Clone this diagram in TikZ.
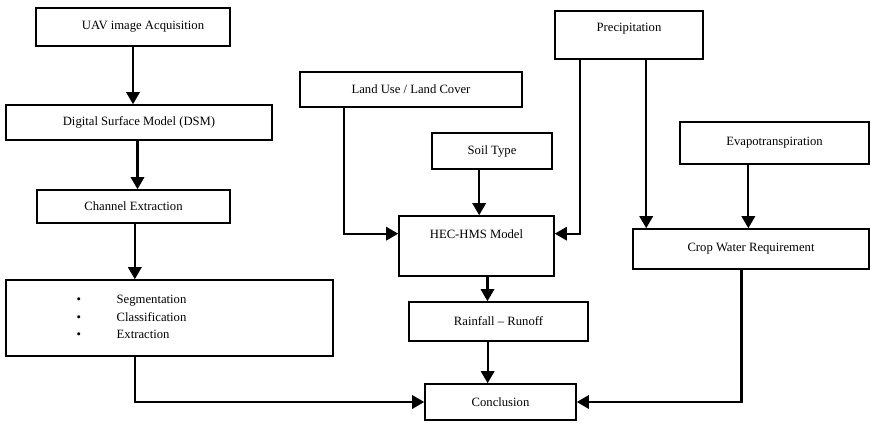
\documentclass[tikz,border=0pt]{standalone}
\usepackage{fontspec}
\setmainfont{Liberation Serif}
\usetikzlibrary{arrows.meta,calc}
\tikzstyle{every node}=[font=\fontsize{9.5}{11.4}\selectfont]
\tikzstyle{box}=[draw=black,line width=1.2pt,inner sep=0pt,align=center]
\tikzstyle{flow}=[line width=1.6pt,-{Triangle[width=10pt,length=9pt]}]

\begin{document}
\begin{tikzpicture}[x=0.75pt,y=-0.75pt]
  \useasboundingbox (0,0) rectangle (871,422);

  \node [box,minimum width=145.5pt,minimum height=28.5pt] (uav) at (133,27)
    {\hspace*{15pt}UAV image Acquisition};
  \node [box,minimum width=199.5pt,minimum height=26.25pt] (dsm) at (139,122.5)
    {Digital Surface Model (DSM)};
  \node [box,minimum width=144.75pt,minimum height=24.75pt] (chan) at (133.5,206.5)
    {Channel Extraction};
  \node [box,minimum width=245.25pt,minimum height=57pt] (stepbox) at (169.5,318) {};
  \node [anchor=west,align=left,font=\fontsize{9.5}{13}\selectfont] (steps) at (72,317)
    {\makebox[30pt][l]{\textbullet}Segmentation\\
     \makebox[30pt][l]{\textbullet}Classification\\
     \makebox[30pt][l]{\textbullet}Extraction};

  \node [box,minimum width=166.5pt,minimum height=26.25pt] (land) at (411,89.5)
    {Land Use / Land Cover};
  \node [box,minimum width=90pt,minimum height=27pt] (soil) at (492,151)
    {Soil Type};
  \node [box,minimum width=111pt,minimum height=36pt,text depth=11pt] (precip) at (629,35)
    {Precipitation};
  \node [box,minimum width=141.75pt,minimum height=31.5pt] (evapo) at (774.5,143)
    {Evapotranspiration};
  \node [box,minimum width=116.25pt,minimum height=45pt,text depth=18.5pt] (hec) at (476.5,246)
    {HEC-HMS Model};
  \node [box,minimum width=177pt,minimum height=30pt] (crop) at (751,249)
    {Crop Water Requirement};
  \node [box,minimum width=134.25pt,minimum height=29.25pt] (rain) at (498.5,321.5)
    {Rainfall -- Runoff};
  \node [box,minimum width=113.25pt,minimum height=27pt] (concl) at (500.5,402)
    {Conclusion};

  \coordinate (landout) at ($(land.south west)!0.2!(land.south east)$);
  \coordinate (hecleft) at ($(hec.north west)!0.3!(hec.south west)$);
  \coordinate (hecright) at ($(hec.north east)!0.3!(hec.south east)$);
  \coordinate (precipa) at ($(precip.south west)!0.17!(precip.south east)$);
  \coordinate (precipb) at ($(precip.south west)!0.615!(precip.south east)$);
  \coordinate (hecout) at ($(hec.south west)!0.57!(hec.south east)$);
  \coordinate (rainout) at ($(rain.south west)!0.44!(rain.south east)$);
  \coordinate (cropout) at ($(crop.south west)!0.46!(crop.south east)$);

  \draw [flow] (uav.south) -- (uav.south |- dsm.north);
  \draw [flow] ([xshift=3pt]chan.north |- dsm.south) -- ([xshift=3pt]chan.north);
  \draw [flow] ([xshift=1pt]chan.south) -- ([xshift=1pt]chan.south |- stepbox.north);
  \draw [flow] ([xshift=1pt]chan.south |- stepbox.south) |- (concl.west);

  \draw [flow] (landout) |- (hecleft);
  \draw [flow] ([xshift=2pt]hec.north |- soil.south) -- ([xshift=2pt]hec.north);
  \draw [flow] (precipa) |- (hecright);
  \draw [flow] (precipb) -- (precipb |- crop.north);
  \draw [flow] ([xshift=-2pt]crop.north |- evapo.south) -- ([xshift=-2pt]crop.north);

  \draw [flow] (hecout) -- (hecout |- rain.north);
  \draw [flow] (rainout) -- (rainout |- concl.north);
  \draw [flow] (cropout) |- (concl.east);
\end{tikzpicture}
\end{document}
